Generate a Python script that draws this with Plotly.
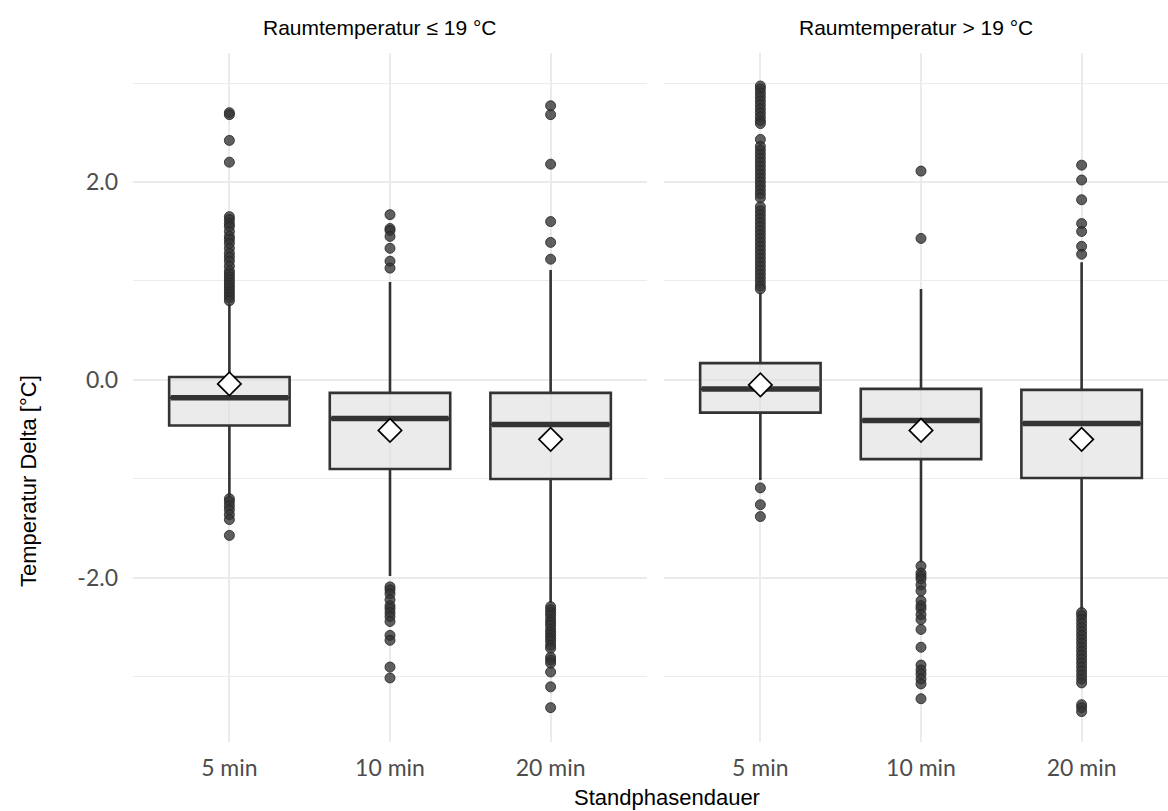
import plotly.graph_objects as go

# ---------------- data ----------------
categories = ["5 min", "10 min", "20 min"]
facets = ["Raumtemperatur ≤ 19 °C", "Raumtemperatur > 19 °C"]

# box statistics per facet (order follows categories)
q1_low = [-0.46, -0.90, -1.00]
median_low = [-0.18, -0.39, -0.45]
q3_low = [0.03, -0.13, -0.13]
lower_whisker_low = [-1.18, -1.98, -2.25]
upper_whisker_low = [0.77, 0.99, 1.11]
mean_low = [-0.04, -0.51, -0.60]

q1_high = [-0.33, -0.80, -0.99]
median_high = [-0.09, -0.41, -0.44]
q3_high = [0.17, -0.09, -0.10]
lower_whisker_high = [-1.01, -1.84, -2.32]
upper_whisker_high = [0.88, 0.92, 1.19]
mean_high = [-0.05, -0.51, -0.60]

outliers_low_5 = [2.70, 2.68, 2.42, 2.20, 1.65, 1.62, 1.58, 1.55, 1.50, 1.45, 1.42, 1.38, 1.33,
                  1.28, 1.24, 1.20, 1.15, 1.10, 1.07, 1.04, 1.01, 0.98, 0.95, 0.92, 0.89, 0.86,
                  0.83, 0.80, -1.20, -1.23, -1.27, -1.31, -1.36, -1.41, -1.57]
outliers_low_10 = [1.67, 1.53, 1.51, 1.45, 1.33, 1.20, 1.13, -2.09, -2.12, -2.16, -2.22, -2.28,
                   -2.31, -2.35, -2.39, -2.44, -2.58, -2.63, -2.90, -3.01]
outliers_low_20 = [2.77, 2.68, 2.18, 1.60, 1.39, 1.22, -2.29, -2.32, -2.35, -2.38, -2.42, -2.45,
                   -2.48, -2.52, -2.55, -2.58, -2.61, -2.64, -2.68, -2.71, -2.80, -2.83, -2.86,
                   -2.95, -3.10, -3.31]
outliers_high_5 = [2.97, 2.94, 2.90, 2.86, 2.82, 2.78, 2.74, 2.70, 2.66, 2.62, 2.59, 2.43, 2.36,
                   2.32, 2.28, 2.24, 2.20, 2.16, 2.12, 2.08, 2.04, 2.00, 1.96, 1.92, 1.88, 1.84,
                   1.75, 1.71, 1.67, 1.63, 1.59, 1.55, 1.51, 1.47, 1.43, 1.39, 1.35, 1.31, 1.27,
                   1.23, 1.19, 1.15, 1.11, 1.07, 1.03, 0.99, 0.95, 0.92, -1.09, -1.26, -1.38]
outliers_high_10 = [2.11, 1.43, -1.88, -1.95, -1.98, -2.01, -2.07, -2.13, -2.23, -2.28, -2.31,
                    -2.37, -2.42, -2.52, -2.70, -2.88, -2.93, -2.97, -3.02, -3.07, -3.22]
outliers_high_20 = [2.17, 2.02, 1.82, 1.58, 1.50, 1.35, 1.27, -2.35, -2.38, -2.42, -2.46, -2.50,
                    -2.54, -2.58, -2.62, -2.66, -2.70, -2.74, -2.78, -2.82, -2.86, -2.90, -2.94,
                    -2.98, -3.02, -3.06, -3.28, -3.31, -3.35]

y_tick_values = [-2, 0, 2]
y_tick_labels = ["-2.0", "0.0", "2.0"]
y_minor_values = [-3, -1, 1, 3]

# ---------------- styling ----------------
W, H = 1168, 811
ML, MR, MT, MB = 133, 0, 53, 69
P1L, P1R, P2L, P2R = 133, 647, 664, 1168
plot_w = W - ML - MR
unit_px = (P1R - P1L) / 3.2

BOX_W = 0.75
DARK = "#333333"
GRID = "#ebebeb"
TICKFONT = dict(family="Lato", size=23, color="#4d4d4d")
TITLEFONT = dict(family="Liberation Sans, Arial", size=21, color="#000000")
AXTITLEFONT = dict(family="Liberation Sans, Arial", size=22, color="#000000")

fig = go.Figure()

panels = [
    dict(q1=q1_low, med=median_low, q3=q3_low, lw=lower_whisker_low, uw=upper_whisker_low,
         mean=mean_low, out=[outliers_low_5, outliers_low_10, outliers_low_20], xa="x", ya="y"),
    dict(q1=q1_high, med=median_high, q3=q3_high, lw=lower_whisker_high, uw=upper_whisker_high,
         mean=mean_high, out=[outliers_high_5, outliers_high_10, outliers_high_20], xa="x2", ya="y2"),
]

for p in panels:
    for i, cat in enumerate(categories):
        pos = i + 1
        # outliers
        fig.add_trace(go.Scatter(
            x=[pos] * len(p["out"][i]), y=p["out"][i], mode="markers",
            marker=dict(size=10, color="rgba(51,51,51,0.78)",
                        line=dict(color="rgba(40,40,40,0.85)", width=1)),
            xaxis=p["xa"], yaxis=p["ya"], showlegend=False, hoverinfo="y"))
        # box
        fig.add_trace(go.Box(
            x=[pos], q1=[p["q1"][i]], median=[p["med"][i]], q3=[p["q3"][i]],
            lowerfence=[p["lw"][i]], upperfence=[p["uw"][i]],
            width=BOX_W, whiskerwidth=0, boxpoints=False,
            fillcolor="rgba(222,222,222,0.62)", line=dict(color=DARK, width=2.6),
            xaxis=p["xa"], yaxis=p["ya"], showlegend=False, name=cat))
        # thick median
        fig.add_trace(go.Scatter(
            x=[pos - BOX_W / 2 + 0.01, pos + BOX_W / 2 - 0.01], y=[p["med"][i]] * 2,
            mode="lines", line=dict(color=DARK, width=5.5),
            xaxis=p["xa"], yaxis=p["ya"], showlegend=False, hoverinfo="skip"))
    # means
    fig.add_trace(go.Scatter(
        x=[i + 1 for i in range(len(categories))], y=p["mean"], mode="markers",
        marker=dict(symbol="diamond", size=18, color="white",
                    line=dict(color="black", width=1.7)),
        xaxis=p["xa"], yaxis=p["ya"], showlegend=False, hoverinfo="y"))

pos_vals = [i + 1 for i in range(len(categories))]
xcommon = dict(tickmode="array", tickvals=pos_vals, ticktext=categories,
               showgrid=True, gridcolor=GRID, gridwidth=1.6, zeroline=False,
               ticks="", showline=False, tickfont=TICKFONT, ticklabelstandoff=10)
ycommon = dict(range=[-3.657, 3.303],
               tickmode="array", tickvals=y_tick_values, ticktext=y_tick_labels,
               showgrid=True, gridcolor=GRID, gridwidth=2, zeroline=False,
               ticks="", showline=False, tickfont=TICKFONT,
               minor=dict(tickmode="array", tickvals=y_minor_values, showgrid=True,
                          gridcolor=GRID, gridwidth=1, ticks=""))

fig.update_layout(
    width=W, height=H,
    margin=dict(l=ML, r=MR, t=MT, b=MB, pad=0),
    paper_bgcolor="white", plot_bgcolor="white",
    showlegend=False,
    xaxis=dict(domain=[0, (P1R - P1L) / plot_w], range=[0.4, 3.6], **xcommon),
    xaxis2=dict(domain=[(P2L - ML) / plot_w, 1],
                range=[0.4, 0.4 + (P2R - P2L) / unit_px], anchor="y2", **xcommon),
    yaxis=dict(anchor="x", ticklabelstandoff=14, **ycommon),
    yaxis2=dict(anchor="x2", matches="y", showticklabels=False, **ycommon),
)

def px_to_paper_x(px):
    return (px - ML) / plot_w

def px_to_paper_y(py):
    return 1 - (py - MT) / (H - MT - MB)

annotations = [
    dict(text=facets[0], x=px_to_paper_x(380), y=px_to_paper_y(27), font=TITLEFONT),
    dict(text=facets[1], x=px_to_paper_x(916), y=px_to_paper_y(27), font=TITLEFONT),
    dict(text="Standphasendauer", x=px_to_paper_x(667), y=px_to_paper_y(797), font=AXTITLEFONT),
    dict(text="Temperatur Delta [°C]", x=px_to_paper_x(28), y=px_to_paper_y(481),
         textangle=-90, font=AXTITLEFONT),
]
for a in annotations:
    fig.add_annotation(xref="paper", yref="paper", showarrow=False,
                       xanchor="center", yanchor="middle", **a)

fig.write_html("out.html")
